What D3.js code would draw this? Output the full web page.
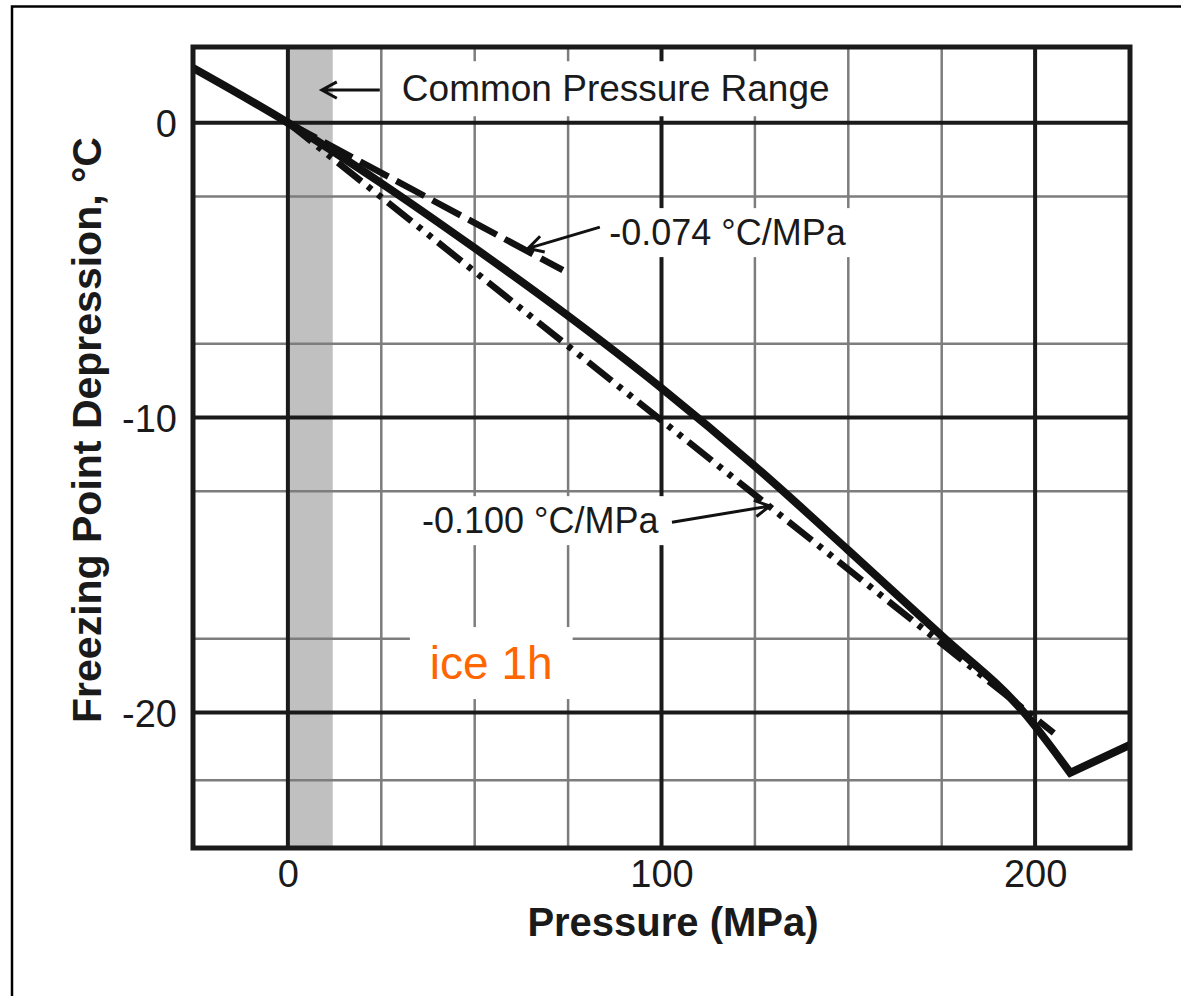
<!DOCTYPE html>
<html>
<head>
<meta charset="utf-8">
<script src="https://cdn.jsdelivr.net/npm/d3@7"></script>
<style>
  body { margin: 0; background: #fff; }
  svg { display: block; font-family: "Liberation Sans", Arial, sans-serif; }
</style>
</head>
<body>
<svg id="chart" width="1181" height="996"></svg>
<script>
// melting curve of ice 1h
const pressure = [-25.4, 0, 25, 50, 75, 100, 125, 150, 175, 196.8, 209.4];
const meltTemp = [1.86, 0, -2.05, -4.25, -6.55, -9.0, -11.65, -14.5, -17.4, -19.97, -22.05];
// the ice III branch after the triple point
const pressureIII = [209.4, 225.4];
const meltTempIII = [-22.05, -21.1];

// the two slope lines
const slope074P = [0, 73.6];
const slope074T = [0, -5.0];
const slope100P = [0, 205];
const slope100T = [0, -20.7];

// shaded common pressure range
const rangeP = [0, 12];

// ticks and grid
const xTicks = [0, 100, 200];
const yTicks = [0, -10, -20];
const xMinor = [25, 50, 75, 125, 150, 175];
const yMinor = [-2.5, -7.5, -12.5, -17.5, -22.3];

const svg = d3.select("#chart");

// set the plot area
const plotLeft = 193, plotRight = 1130, plotTop = 47, plotBottom = 848;

var x = d3.scaleLinear().domain([-25.4, 225.4]).range([plotLeft, plotRight]);
var y = d3.scaleLinear().domain([2.57, -24.6]).range([plotTop, plotBottom]);

// outer frame of the figure
svg.append("rect")
  .attr("x", 12).attr("y", 6.5)
  .attr("width", 1200).attr("height", 1000)
  .attr("fill", "none").attr("stroke", "#000").attr("stroke-width", 2.5);

svg.append("clipPath").attr("id", "plotclip")
  .append("rect")
  .attr("x", plotLeft).attr("y", plotTop)
  .attr("width", plotRight - plotLeft).attr("height", plotBottom - plotTop);

// gray band
svg.append("rect")
  .attr("x", x(rangeP[0]))
  .attr("y", plotTop)
  .attr("width", x(rangeP[1]) - x(rangeP[0]))
  .attr("height", plotBottom - plotTop)
  .attr("fill", "#c0c0c0");

// grid lines
const grid = svg.append("g");
grid.selectAll(".vminor").data(xMinor).enter().append("line")
  .attr("x1", d => x(d)).attr("x2", d => x(d))
  .attr("y1", plotTop).attr("y2", plotBottom)
  .attr("stroke", "#7d7d7d").attr("stroke-width", 2.5);
grid.selectAll(".hminor").data(yMinor).enter().append("line")
  .attr("x1", plotLeft).attr("x2", plotRight)
  .attr("y1", d => y(d)).attr("y2", d => y(d))
  .attr("stroke", "#7d7d7d").attr("stroke-width", 2.5);
grid.selectAll(".vmajor").data(xTicks).enter().append("line")
  .attr("x1", d => x(d)).attr("x2", d => x(d))
  .attr("y1", plotTop).attr("y2", plotBottom)
  .attr("stroke", "#1a1a1a").attr("stroke-width", 4);
grid.selectAll(".hmajor").data(yTicks).enter().append("line")
  .attr("x1", plotLeft).attr("x2", plotRight)
  .attr("y1", d => y(d)).attr("y2", d => y(d))
  .attr("stroke", "#1a1a1a").attr("stroke-width", 4);

// text labels with white boxes behind them
const notes = [
  {text: "Common Pressure Range", p: 30.5, t: 0.73, size: 37, color: "#1a1a1a", padX: 8, padY: 7},
  {text: "-0.074 \u00B0C/MPa", p: 86.0, t: -4.15, size: 36, color: "#1a1a1a", padX: 6, padY: 4},
  {text: "-0.100 \u00B0C/MPa", p: 35.9, t: -13.92, size: 36, color: "#1a1a1a", padX: 7, padY: 4},
  {text: "ice 1h", p: 38.0, t: -18.87, size: 46, color: "#ff6600", padX: 20, padY: 10}
];

const noteG = svg.append("g");
notes.forEach(n => {
  const g = noteG.append("g");
  const box = g.append("rect").attr("fill", "#fff");
  const txt = g.append("text")
    .attr("x", x(n.p)).attr("y", y(n.t))
    .attr("font-size", n.size)
    .attr("fill", n.color)
    .text(n.text);
  const bb = txt.node().getBBox();
  box.attr("x", bb.x - n.padX).attr("y", bb.y - n.padY)
    .attr("width", bb.width + 2 * n.padX).attr("height", bb.height + 2 * n.padY);
});

// lines
const lines = svg.append("g").attr("clip-path", "url(#plotclip)");
const lineGen = d3.line().x(d => x(d[0])).y(d => y(d[1]));
const smoothGen = d3.line().x(d => x(d[0])).y(d => y(d[1])).curve(d3.curveMonotoneX);

lines.append("path")
  .datum(d3.zip(slope100P, slope100T))
  .attr("d", lineGen)
  .attr("fill", "none").attr("stroke", "#111").attr("stroke-width", 6.5)
  .attr("stroke-dasharray", "30,8,5,8,5,8");

lines.append("path")
  .datum(d3.zip(slope074P, slope074T))
  .attr("d", lineGen)
  .attr("fill", "none").attr("stroke", "#111").attr("stroke-width", 6.5)
  .attr("stroke-dasharray", "32,9");

// join both branches into one path so the corner at the triple point stays sharp
const pathIh = smoothGen(d3.zip(pressure, meltTemp));
const pathIII = lineGen(d3.zip(pressureIII, meltTempIII)).replace(/^M[^L]*/, "");
lines.append("path")
  .attr("d", pathIh + pathIII)
  .attr("fill", "none").attr("stroke", "#111").attr("stroke-width", 8)
  .attr("stroke-linejoin", "miter");

// arrows
const arrows = [
  {from: [24.6, 1.11], to: [9.1, 1.11]},
  {from: [83.5, -3.54], to: [64.3, -4.26]},
  {from: [102.8, -13.55], to: [129.0, -13.0]}
];
arrows.forEach(a => {
  const x1 = x(a.from[0]), y1 = y(a.from[1]), x2 = x(a.to[0]), y2 = y(a.to[1]);
  const ang = Math.atan2(y2 - y1, x2 - x1);
  const L = 17, w = 0.5;
  const hx1 = x2 - L * Math.cos(ang - w), hy1 = y2 - L * Math.sin(ang - w);
  const hx2 = x2 - L * Math.cos(ang + w), hy2 = y2 - L * Math.sin(ang + w);
  svg.append("path")
    .attr("d", `M${x1},${y1}L${x2},${y2}M${hx1},${hy1}L${x2},${y2}L${hx2},${hy2}`)
    .attr("fill", "none").attr("stroke", "#111").attr("stroke-width", 3)
    .attr("stroke-linejoin", "miter");
});

// plot border
svg.append("rect")
  .attr("x", plotLeft).attr("y", plotTop)
  .attr("width", plotRight - plotLeft).attr("height", plotBottom - plotTop)
  .attr("fill", "none").attr("stroke", "#1a1a1a").attr("stroke-width", 5);

// axes (labels only)
const xAxis = svg.append("g")
  .attr("transform", "translate(0," + plotBottom + ")")
  .call(d3.axisBottom(x).tickValues(xTicks).tickSize(0).tickPadding(12).tickFormat(d => String(d)));
xAxis.select(".domain").remove();
xAxis.selectAll("text")
  .attr("font-size", 38).attr("fill", "#1a1a1a")
  .attr("font-family", "Liberation Sans, Arial, sans-serif")
  .attr("dy", "0.71em");

const yAxis = svg.append("g")
  .attr("transform", "translate(" + plotLeft + ",0)")
  .call(d3.axisLeft(y).tickValues(yTicks).tickSize(0).tickPadding(16).tickFormat(d => String(d)));
yAxis.select(".domain").remove();
yAxis.selectAll("text")
  .attr("font-size", 38).attr("fill", "#1a1a1a")
  .attr("font-family", "Liberation Sans, Arial, sans-serif")
  .attr("dy", "0.36em");

// axis titles
svg.append("text")
  .attr("x", 673).attr("y", 936)
  .attr("text-anchor", "middle")
  .attr("font-size", 40).attr("font-weight", "bold").attr("fill", "#1a1a1a")
  .text("Pressure (MPa)");

svg.append("text")
  .attr("transform", "translate(101,430) rotate(-90)")
  .attr("text-anchor", "middle")
  .attr("font-size", 41).attr("font-weight", "bold").attr("fill", "#1a1a1a")
  .text("Freezing Point Depression, \u00B0C");
</script>
</body>
</html>
